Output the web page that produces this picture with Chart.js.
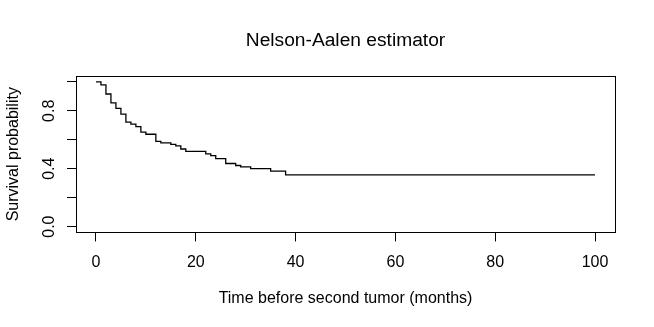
<!DOCTYPE html>
<html>
<head>
<meta charset="utf-8">
<script src="https://cdn.jsdelivr.net/npm/chart.js@4.4.1/dist/chart.umd.min.js"></script>
<style>
  html, body { margin: 0; padding: 0; background: #fff; }
  #wrap { width: 654px; height: 327px; }
</style>
</head>
<body>
<div id="wrap"><canvas id="chart" width="654" height="327"></canvas></div>
<script>
// step times (months) and estimated survival
const times = [0, 1, 2, 3, 4, 5, 6, 7, 8, 9, 10, 12, 13, 15, 16, 17, 18, 22, 23, 24, 26, 28, 29, 31, 35, 38, 100];
const survival = [1.0, 0.979, 0.916, 0.854, 0.817, 0.777, 0.722, 0.708, 0.691, 0.652, 0.638, 0.589, 0.578, 0.568, 0.557, 0.536, 0.520, 0.503, 0.490, 0.469, 0.436, 0.422, 0.413, 0.401, 0.383, 0.357, 0.357];

const xTicks = [0, 20, 40, 60, 80, 100];
const yTicks = [0, 0.2, 0.4, 0.6, 0.8, 1.0];
const yTickLabels = ['0.0', '', '0.4', '', '0.8', ''];

const FONT = '"Liberation Sans", Helvetica, Arial, sans-serif';

// R-style box around the plotting region
const boxPlugin = {
  id: 'box',
  afterDraw(chart) {
    const { ctx, chartArea: a } = chart;
    ctx.save();
    ctx.strokeStyle = '#000';
    ctx.lineWidth = 1;
    ctx.strokeRect(Math.round(a.left) + 0.5, Math.round(a.top) + 0.5,
      Math.round(a.right - a.left), Math.round(a.bottom - a.top));
    ctx.restore();
  }
};

new Chart(document.getElementById('chart'), {
  type: 'line',
  data: {
    datasets: [{
      label: 'Nelson-Aalen',
      data: times.map((t, i) => ({ x: t, y: survival[i] })),
      stepped: 'before',
      borderColor: '#000',
      borderWidth: 1.3,
      pointRadius: 0,
      fill: false
    }]
  },
  options: {
    responsive: false,
    animation: false,
    devicePixelRatio: 1,
    layout: { padding: { left: 0, right: 39, top: 0, bottom: 0 } },
    plugins: {
      legend: { display: false },
      tooltip: { enabled: false },
      title: {
        display: true,
        text: 'Nelson-Aalen estimator',
        fullSize: false,
        color: '#000',
        font: { family: FONT, size: 19.2, weight: 'normal' },
        padding: { top: 29, bottom: 24 }
      }
    },
    scales: {
      x: {
        type: 'linear',
        min: -4,
        max: 104,
        afterFit(scale) { scale.height = 94.6; },
        afterBuildTicks(scale) { scale.ticks = xTicks.map(v => ({ value: v })); },
        ticks: {
          color: '#000',
          padding: 12,
          maxRotation: 0,
          autoSkip: false,
          font: { family: FONT, size: 16 },
          callback: v => String(v)
        },
        grid: { drawOnChartArea: false, drawTicks: true, tickLength: 9, tickColor: '#000', color: '#000' },
        border: { display: true, color: '#000' },
        title: {
          display: true,
          text: 'Time before second tumor (months)',
          color: '#000',
          font: { family: FONT, size: 16 },
          padding: { top: 0, bottom: 19 }
        }
      },
      y: {
        type: 'linear',
        min: -0.04,
        max: 1.04,
        afterFit(scale) { scale.width = 76; },
        afterBuildTicks(scale) { scale.ticks = yTicks.map(v => ({ value: v })); },
        ticks: {
          color: '#000',
          padding: 6,
          minRotation: 90,
          maxRotation: 90,
          crossAlign: 'center',
          autoSkip: false,
          font: { family: FONT, size: 16 },
          callback: (v, i) => yTickLabels[i]
        },
        grid: { drawOnChartArea: false, drawTicks: true, tickLength: 9, tickColor: '#000', color: '#000' },
        border: { display: true, color: '#000' },
        title: {
          display: true,
          text: 'Survival probability',
          color: '#000',
          font: { family: FONT, size: 16 },
          padding: { top: 4, bottom: 0 }
        }
      }
    }
  },
  plugins: [boxPlugin]
});
</script>
</body>
</html>
